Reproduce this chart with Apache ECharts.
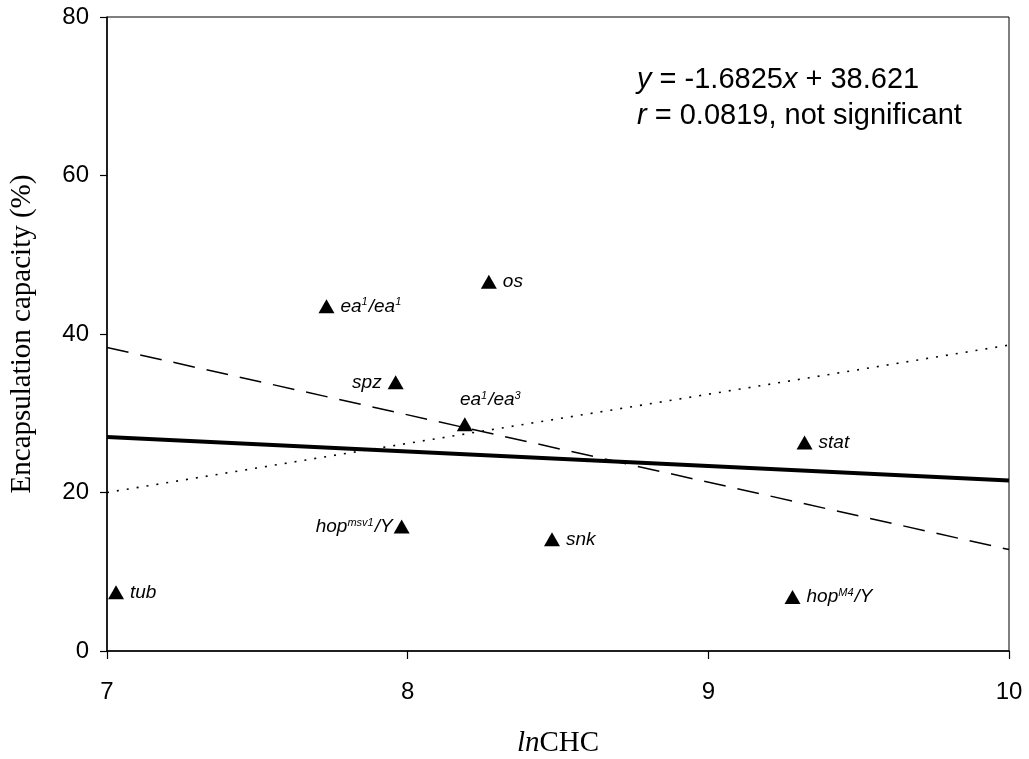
<!DOCTYPE html>
<html>
<head>
<meta charset="utf-8">
<script src="https://cdn.jsdelivr.net/npm/echarts@6/dist/echarts.min.js"></script>
<style>
  html, body { margin: 0; padding: 0; background: #fff; }
  #chart { width: 1029px; height: 759px; }
</style>
</head>
<body>
<div id="chart"></div>
<script>
// strains
var strains = ['tub', 'ea1/ea1', 'os', 'spz', 'ea1/ea3', 'hopmsv1/Y', 'snk', 'stat', 'hopM4/Y'];
var lnCHC = [7.03, 7.73, 8.27, 7.96, 8.19, 7.98, 8.48, 9.32, 9.28];
var encapsulation = [7.4, 43.5, 46.6, 33.9, 28.6, 15.7, 14.1, 26.3, 6.8];

// fitted lines (end points)
var fitSolidX = [7, 10];
var fitSolidY = [27.0, 21.5];
var fitDashedX = [7, 10];
var fitDashedY = [38.3, 12.8];
var fitDottedX = [7, 10];
var fitDottedY = [20.0, 38.6];

var xTicks = [7, 8, 9, 10];
var yTicks = [0, 20, 40, 60, 80];

// rich-text label for each strain
var labelText = {
  'tub': '{i|tub}',
  'ea1/ea1': '{i|ea}{s|1}{i|/ea}{s|1}',
  'os': '{i|os}',
  'spz': '{i|spz}',
  'ea1/ea3': '{i|ea}{s|1}{i|/ea}{s|3}',
  'hopmsv1/Y': '{i|hop}{s|msv1}{i|/Y}',
  'snk': '{i|snk}',
  'stat': '{i|stat}',
  'hopM4/Y': '{i|hop}{s|M4}{i|/Y}'
};
var labelSide = {
  'spz': { position: 'left', distance: 6 },
  'hopmsv1/Y': { position: 'left', distance: 1 },
  'ea1/ea3': { position: 'top', distance: 8, offset: [26, 0] }
};

function pairs(xs, ys) {
  return xs.map(function (x, i) { return [x, ys[i]]; });
}

var points = strains.map(function (name, i) {
  var side = labelSide[name] || { position: 'right', distance: 6 };
  return {
    name: name,
    value: [lnCHC[i], encapsulation[i]],
    label: {
      position: side.position,
      distance: side.distance,
      offset: side.offset || [0, 0],
      formatter: labelText[name]
    }
  };
});

var sans = 'Liberation Sans, Arial, sans-serif';
var serif = 'Liberation Serif, Times New Roman, serif';

var chart = echarts.init(document.getElementById('chart'));
var option = {
  backgroundColor: '#fff',
  animation: false,
  grid: {
    left: 107, right: 20, top: 17, bottom: 108,
    outerBoundsMode: 'none',
    containLabel: false,
    show: true, borderColor: '#000', borderWidth: 1
  },
  xAxis: {
    type: 'value',
    min: xTicks[0], max: xTicks[xTicks.length - 1], interval: 1,
    name: '{i|ln}{n|CHC}',
    nameLocation: 'middle',
    nameGap: 78,
    nameTextStyle: {
      rich: {
        i: { fontFamily: serif, fontSize: 29, fontStyle: 'italic', color: '#000' },
        n: { fontFamily: serif, fontSize: 29, color: '#000' }
      }
    },
    axisLine: { lineStyle: { color: '#000', width: 1.5 } },
    axisTick: { inside: false, length: 8, lineStyle: { color: '#000', width: 1.2 } },
    axisLabel: { color: '#000', fontFamily: sans, fontSize: 24, margin: 29 },
    splitLine: { show: false }
  },
  yAxis: {
    type: 'value',
    min: yTicks[0], max: yTicks[yTicks.length - 1], interval: 20,
    name: 'Encapsulation capacity (%)',
    nameLocation: 'middle',
    nameGap: 70,
    nameTextStyle: { fontFamily: serif, fontSize: 29, color: '#000' },
    axisLine: { show: true, lineStyle: { color: '#000', width: 1.5 } },
    axisTick: { show: true, inside: false, length: 7, lineStyle: { color: '#000', width: 1.2 } },
    axisLabel: { color: '#000', fontFamily: sans, fontSize: 24, margin: 18 },
    splitLine: { show: false }
  },
  graphic: [{
    type: 'text',
    left: 637,
    top: 62,
    style: {
      text: '{i|y} = -1.6825{i|x} + 38.621\n{i|r} = 0.0819, not significant',
      align: 'center',
      x: 167,
      fill: '#000',
      font: '29px ' + sans,
      lineHeight: 36,
      rich: {
        i: { fontFamily: sans, fontSize: 29, fontStyle: 'italic', fill: '#000', lineHeight: 36 }
      }
    },
    z: 10
  }],
  series: [
    {
      name: 'fit dashed',
      type: 'line',
      data: pairs(fitDashedX, fitDashedY),
      symbol: 'none',
      lineStyle: { color: '#000', width: 1.5, type: [22, 12] },
      z: 2
    },
    {
      name: 'fit dotted',
      type: 'line',
      data: pairs(fitDottedX, fitDottedY),
      symbol: 'none',
      lineStyle: { color: '#000', width: 1.6, type: [2, 8] },
      z: 2
    },
    {
      name: 'fit solid',
      type: 'line',
      data: pairs(fitSolidX, fitSolidY),
      symbol: 'none',
      lineStyle: { color: '#000', width: 4 },
      z: 3
    },
    {
      name: 'strains',
      type: 'scatter',
      data: points,
      symbol: 'triangle',
      symbolSize: [16, 14],
      itemStyle: { color: '#000', opacity: 1 },
      label: {
        show: true,
        color: '#000',
        opacity: 1,
        rich: {
          i: { fontFamily: sans, fontSize: 19, fontStyle: 'italic', color: '#000' },
          s: { fontFamily: sans, fontSize: 11, fontStyle: 'italic', color: '#000', verticalAlign: 'top', padding: [0, 1, 8, 0] }
        }
      },
      z: 5
    }
  ]
};
chart.setOption(option);
</script>
</body>
</html>
